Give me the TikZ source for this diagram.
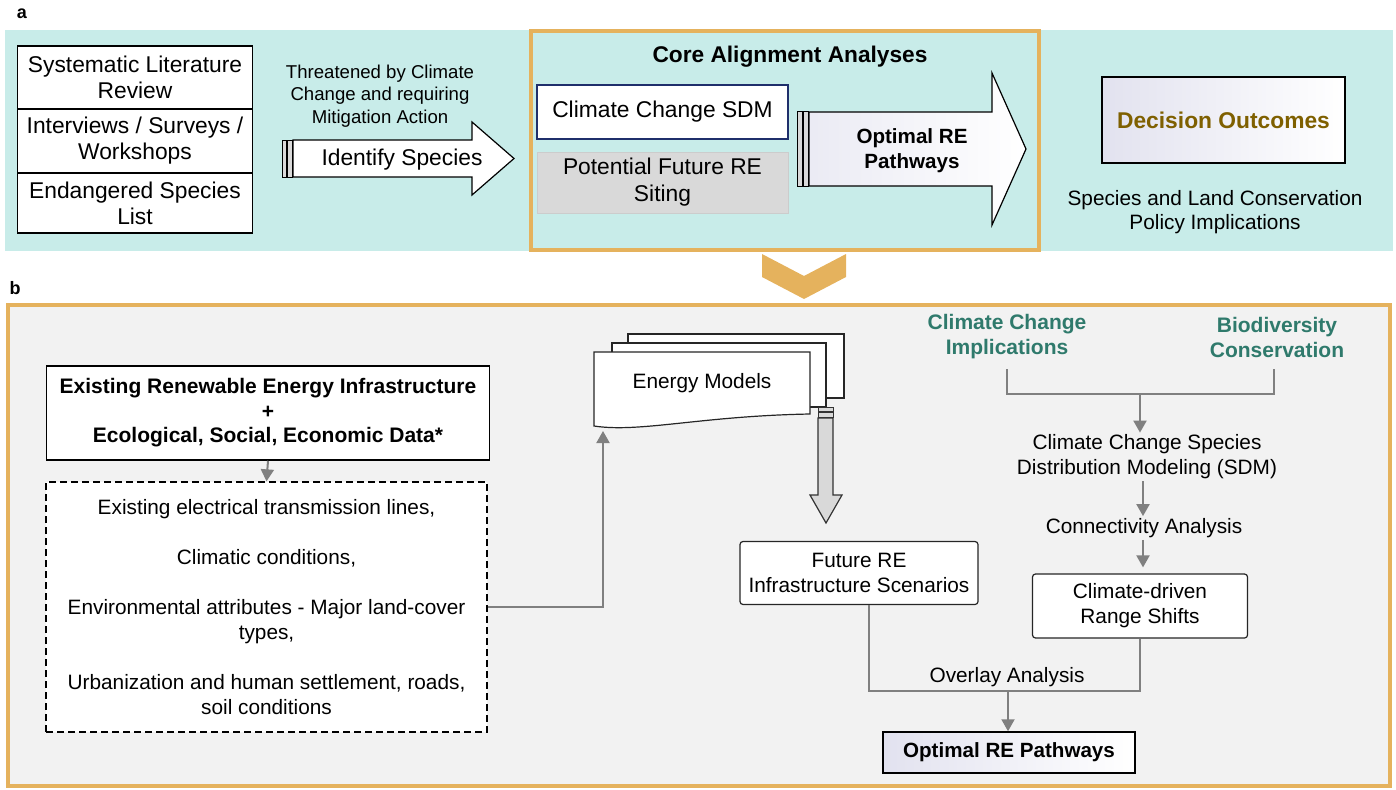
\documentclass[tikz,border=0pt]{standalone}
\usepackage{fontspec}
\setmainfont{Liberation Sans}
\usetikzlibrary{arrows.meta,calc}

\definecolor{panelteal}{HTML}{C8ECE9}
\definecolor{frameorange}{HTML}{E5B25D}
\definecolor{panelgray}{HTML}{F2F2F2}
\definecolor{navyline}{HTML}{1F2F6B}
\definecolor{sitegray}{HTML}{D9D9D9}
\definecolor{outcomebrown}{HTML}{7F6000}
\definecolor{themeteal}{HTML}{2F7A6C}
\definecolor{conngray}{HTML}{808080}
\definecolor{lavender}{HTML}{E2E2EF}

\tikzset{
  panellabel/.style={font=\fontsize{18}{20}\selectfont\bfseries, inner sep=0pt},
  listbox/.style={draw=black, line width=1.3pt, fill=white, inner sep=0pt, align=center,
    minimum width=235pt, font=\fontsize{22.8}{26}\selectfont},
  plain/.style={inner sep=2pt, align=center, font=\fontsize{20.8}{25}\selectfont},
  boldtext/.style={inner sep=2pt, align=center, font=\fontsize{20.6}{25}\selectfont\bfseries},
  themetext/.style={boldtext, text=themeteal, font=\fontsize{21}{25}\selectfont\bfseries},
  card/.style={draw=black!85, line width=1.2pt, fill=white, rounded corners=3pt, inner sep=0pt,
    align=center, font=\fontsize{20.8}{25}\selectfont},
  conn/.style={draw=conngray, line width=2pt},
  arr/.style={conn, -{Triangle[length=12pt,width=13pt]}},
  blockarrow/.style={draw=black, line width=1.2pt},
  bar/.style={draw=black, line width=1pt, fill=black!15},
  docsheet/.style={draw=black!85, line width=1.2pt, fill=white},
}

\begin{document}
\begin{tikzpicture}[x=1pt,y=-1pt]
\useasboundingbox (0,0) rectangle (1396,789);

% ---------- panel a ----------
\node[panellabel] (la) at (22,14) {a};
\fill[panelteal] (5,30) rectangle (1393,251);

% evidence sources
\node[listbox, minimum height=63pt] (slr) at (135,77.5) {Systematic Literature\\Review};
\node[listbox, minimum height=64pt] (isw) at (135,141) {Interviews / Surveys /\\Workshops};
\node[listbox, minimum height=60pt] (esl) at (135,203) {Endangered Species\\List};

\node[plain, font=\fontsize{18.6}{22.5}\selectfont] (threat) at (380,96)
  {Threatened by Climate\\Change and requiring\\Mitigation Action};

% block arrow: identify species
\draw[bar] (282,140) rectangle (286.5,177);
\draw[bar] (287.5,140) rectangle (292,177);
\draw[blockarrow, fill=white] (293,140) -- (472,140) -- (472,122) -- (514,158.5)
  -- (472,195) -- (472,177) -- (293,177) -- cycle;
\node[plain, font=\fontsize{22.8}{26}\selectfont] (ident) at (402,160) {Identify Species};

% core alignment analyses
\draw[frameorange, line width=4pt] (531,31) rectangle (1039,250);
\node[boldtext, font=\fontsize{22.7}{26}\selectfont\bfseries] (core) at (790,57) {Core Alignment Analyses};
\node[draw=navyline, line width=1.5pt, fill=white, minimum width=251pt, minimum height=54pt,
  inner sep=0pt, font=\fontsize{22.8}{26}\selectfont] (ccsdm) at (662.5,112) {Climate Change SDM};
\node[draw=black!20, line width=1pt, fill=sitegray, minimum width=251pt, minimum height=61pt,
  inner sep=0pt, align=center, font=\fontsize{22.8}{27}\selectfont] (site) at (662.5,182.5)
  {Potential Future RE\\Siting};

% block arrow: optimal RE pathways
\draw[bar] (797,112) rectangle (802,186);
\draw[bar] (803,112) rectangle (808,186);
\draw[blockarrow, left color=lavender!70, right color=white] (809,112) -- (992,112) -- (992,73)
  -- (1026,149) -- (992,225) -- (992,186) -- (809,186) -- cycle;
\node[boldtext] (optA) at (912,151) {Optimal RE\\Pathways};

% decision outcomes
\node[draw=black, line width=1.5pt, shading=axis, shading angle=135,
  left color=lavender, right color=white, minimum width=243pt, minimum height=86pt,
  inner sep=0pt, text=outcomebrown, font=\fontsize{22.8}{26}\selectfont\bfseries] (dec) at (1223.5,120)
  {Decision Outcomes};
\node[plain, font=\fontsize{20.8}{24}\selectfont] (policy) at (1215,212)
  {Species and Land Conservation\\Policy Implications};

% chevron between panels
\fill[frameorange] (762,254) -- (804,276) -- (846,254) -- (846,277) -- (804,299) -- (762,277) -- cycle;

% ---------- panel b ----------
\node[panellabel] (lb) at (15,288) {b};
\draw[frameorange, line width=4pt, fill=panelgray] (8,305) rectangle (1390,786);

\node[draw=black, line width=1.5pt, fill=white, minimum width=443pt, minimum height=94pt,
  inner sep=0pt, align=center, font=\fontsize{21}{24.5}\selectfont\bfseries] (exist) at (268,413)
  {Existing Renewable Energy Infrastructure\\+\\Ecological, Social, Economic Data*};

\node[draw=black, line width=1.3pt, dash pattern=on 7pt off 4pt, fill=white,
  minimum width=441pt, minimum height=250pt, inner sep=0pt, align=center,
  font=\fontsize{20.8}{25}\selectfont] (data) at (266.5,607)
  {Existing electrical transmission lines,\\[25pt]
   Climatic conditions,\\[25pt]
   Environmental attributes - Major land-cover\\types,\\[25pt]
   Urbanization and human settlement, roads,\\soil conditions};

\draw[arr] (exist.south) -- (data.north);

% energy models document stack
\draw[docsheet] (628,334) rectangle (844,398);
\draw[docsheet] (612,343) rectangle (826,407);
\draw[docsheet] (594,352) -- (810,352) -- (810,414)
  .. controls (700,416) and (640,433) .. (594,426) -- cycle;
\node[plain] (energy) at (702,383) {Energy Models};
\coordinate (energyIn) at (603,431);

\draw[arr] (data.east) -| (energyIn);

% down arrow from energy models
\draw[line width=1pt, draw=black!80, fill=sitegray] (818,407) rectangle (833,411);
\draw[line width=1pt, draw=black!80, fill=sitegray] (818,412) rectangle (833,417);
\draw[line width=1.2pt, draw=black!80, fill=sitegray] (818,418) -- (833,418) -- (833,495)
  -- (842,495) -- (826,523) -- (810,495) -- (818,495) -- cycle;

\node[card, minimum width=238pt, minimum height=63pt] (future) at (859,573)
  {Future RE\\Infrastructure Scenarios};

% species side
\node[themetext] (cci) at (1007,337) {Climate Change\\Implications};
\node[themetext] (bio) at (1277,337) {Biodiversity\\Conservation};
\coordinate (bl) at (1007,369);
\coordinate (br) at (1274,369);
\coordinate (bm) at (1140,394);
\draw[conn] (bl) |- (bm) -| (br);

\node[plain] (sdm) at (1147,457) {Climate Change Species\\Distribution Modeling (SDM)};
\draw[arr] (bm) -- (bm |- sdm.north);

\node[plain] (connect) at (1144,528) {Connectivity Analysis};
\draw[arr] (sdm.south -| 1143,0) -- (connect.north -| 1143,0);

\node[card, minimum width=215pt, minimum height=64pt] (range) at (1140,606)
  {Climate-driven\\Range Shifts};
\draw[arr, shorten >=6pt] (connect.south -| 1143,0) -- (range.north -| 1143,0);

% overlay analysis
\coordinate (ovL) at (869,691);
\coordinate (ovR) at (1140,691);
\coordinate (ovM) at (1008,691);
\draw[conn] (future.south -| ovL) -- (ovL) -- (ovR) -- (range.south -| ovR);
\node[plain] (overlay) at (1007,677) {Overlay Analysis};

\node[draw=black, line width=1.5pt, left color=lavender, right color=white,
  minimum width=252pt, minimum height=41pt, inner sep=0pt,
  font=\fontsize{20.6}{24}\selectfont\bfseries] (optB) at (1009,752.5) {Optimal RE Pathways};
\draw[arr] (ovM) -- (optB.north -| ovM);

\end{tikzpicture}
\end{document}
